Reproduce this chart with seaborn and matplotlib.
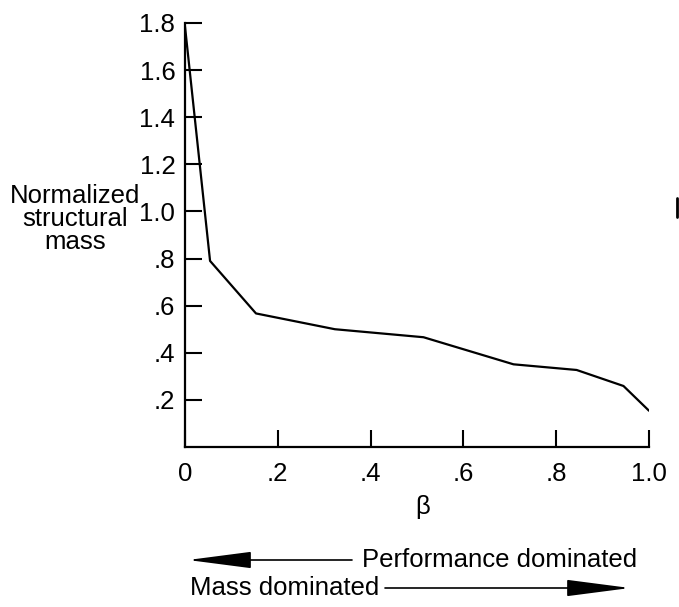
import matplotlib
matplotlib.use("Agg")
import matplotlib.pyplot as plt
from matplotlib.lines import Line2D
import pandas as pd
import seaborn as sns

# curve
beta = [0.0, 0.054, 0.153, 0.323, 0.514, 0.708, 0.844, 0.945, 1.0]
mass = [1.785, 0.79, 0.567, 0.50, 0.466, 0.351, 0.327, 0.259, 0.154]

x_ticks = [0.0, 0.2, 0.4, 0.6, 0.8, 1.0]
x_tick_labels = ["0", ".2", ".4", ".6", ".8", "1.0"]
y_ticks = [0.2, 0.4, 0.6, 0.8, 1.0, 1.2, 1.4, 1.6, 1.8]
y_tick_labels = [".2", ".4", ".6", ".8", "1.0", "1.2", "1.4", "1.6", "1.8"]

W, H = 679, 607


def px(x, y):
    # pixel position (from top-left) -> figure fraction
    return x / W, 1 - y / H


sns.set_style("white")
plt.rcParams['font.family'] = ['Liberation Sans', 'DejaVu Sans']
plt.rcParams['text.color'] = 'black'
plt.rcParams['axes.labelcolor'] = 'black'
FS = 18.5

fig = plt.figure(figsize=(W / 100, H / 100), dpi=100)
ax = fig.add_axes([185 / W, 1 - 447 / H, 464 / W, 424 / H])

df = pd.DataFrame({"beta": beta, "mass": mass})
sns.lineplot(data=df, x="beta", y="mass", ax=ax, color="black", linewidth=1.6)

ax.set_xlim(0, 1.0)
ax.set_ylim(0, 1.8)
ax.set_xticks(x_ticks)
ax.set_xticklabels(x_tick_labels)
ax.set_yticks(y_ticks)
ax.set_yticklabels(y_tick_labels)
ax.tick_params(direction="in", length=12.5, width=1.5, color="black",
               labelsize=FS, labelcolor="black", bottom=True, left=True)
ax.tick_params(axis="x", pad=11)
ax.tick_params(axis="y", pad=7)

for side in ["top", "right"]:
    ax.spines[side].set_visible(False)
for side in ["left", "bottom"]:
    ax.spines[side].set_color("black")
    ax.spines[side].set_linewidth(1.6)

ax.set_ylabel("")
ax.set_xlabel("β", fontsize=FS, va="center")
ax.xaxis.set_label_coords((423 - 185) / 464, -(507 - 447) / 424)

fig.text(*px(75, 219), "Normalized\nstructural\nmass", fontsize=FS,
         ha="center", va="center", linespacing=0.95)

# direction arrows under the axis
arrow_style = dict(arrowstyle="-|>,head_length=2.0,head_width=0.26",
                   color="black", lw=1.2, shrinkA=0, shrinkB=0, mutation_scale=20)
ax.annotate("", xy=px(188, 560), xytext=px(352, 560),
            xycoords="figure fraction", textcoords="figure fraction",
            arrowprops=arrow_style, annotation_clip=False)
fig.text(*px(362, 560), "Performance dominated", fontsize=FS, ha="left", va="center")

fig.text(*px(190, 588), "Mass dominated", fontsize=FS, ha="left", va="center")
ax.annotate("", xy=px(630, 588), xytext=px(385, 588),
            xycoords="figure fraction", textcoords="figure fraction",
            arrowprops=arrow_style, annotation_clip=False)

# small stray mark at the right edge of the scan
x0, y0 = px(677, 198)
x1, y1 = px(677, 217)
fig.add_artist(Line2D([x0, x1], [y0, y1], color="black", lw=2))

fig.savefig("out.png", dpi=100)
